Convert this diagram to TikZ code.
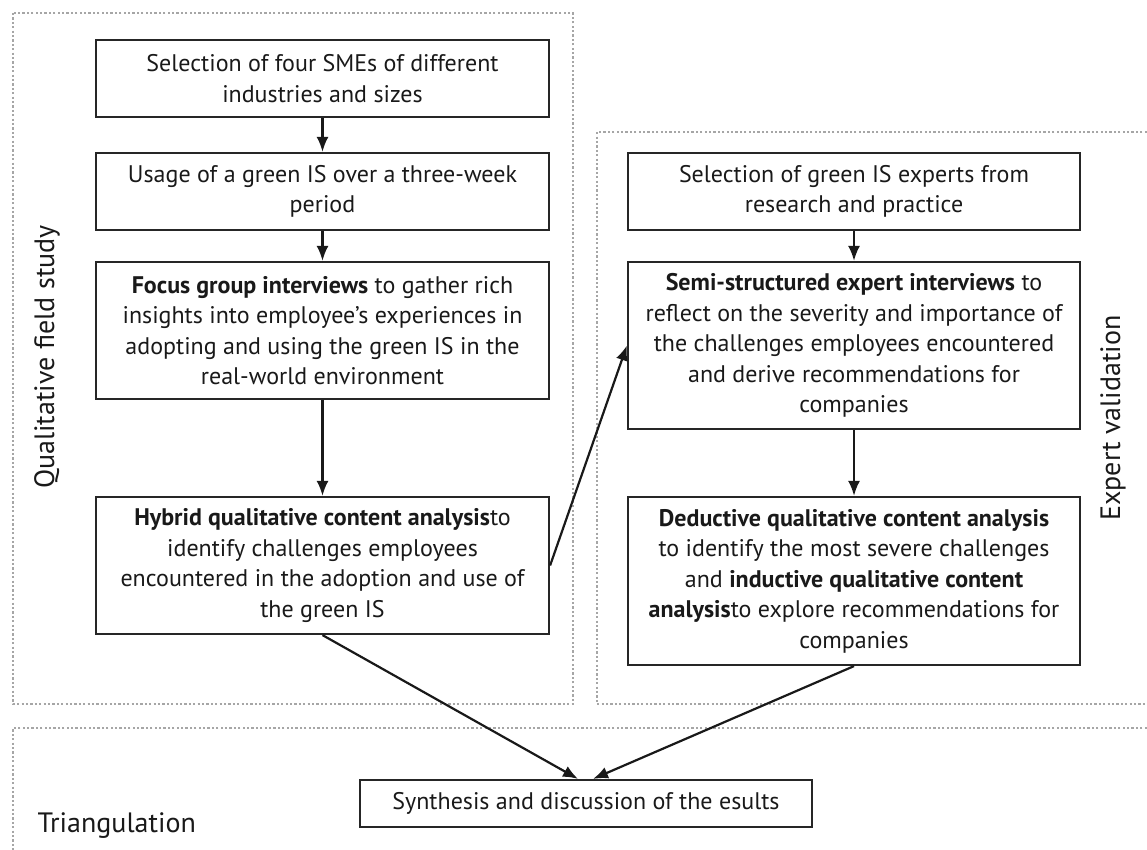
\documentclass[tikz,border=0pt]{standalone}
\usepackage{fontspec}
\setmainfont{PT Sans}
\usetikzlibrary{arrows.meta,calc}
\begin{document}
\begin{tikzpicture}[x=1pt,y=-1pt,
  stepbox/.style={draw=black!85,line width=2.2pt,align=center,inner sep=0pt,
    font=\fontsize{24}{30.5}\selectfont,text=black!90},
  conn/.style={line width=2.2pt,draw=black!90,-{Latex[length=15pt,width=12pt]}},
  frame/.style={draw=black!35,line width=2.6pt,dash pattern=on 2.2pt off 2.2pt},
  lbl/.style={font=\fontsize{28}{30}\selectfont,text=black!90}]
\useasboundingbox (0,0) rectangle (1147,850);
% dotted frames
\draw[frame] (13,13) rectangle (573,704);
\draw[frame] (1160,132) -- (597,132) -- (597,704) -- (1160,704);
\draw[frame] (1160,728) -- (13,728) -- (13,860);
% labels
\node[lbl,rotate=90] (lq) at (47,357) {Qualitative field study};
\node[lbl,rotate=90] (le) at (1113,418) {Expert validation};
\node[lbl,anchor=west] (lt) at (34,826) {Triangulation};
% left column
\node[stepbox,minimum width=453pt,minimum height=77pt] (b1) at (322.5,78.5)
  {Selection of four SMEs of different\\industries and sizes};
\node[stepbox,minimum width=453pt,minimum height=77pt] (b2) at (322.5,191.5)
  {Usage of a green IS over a three-week\\period};
\node[stepbox,minimum width=453pt,minimum height=137pt] (b3) at (322.5,330.5)
  {\textbf{Focus group interviews} to gather rich\\insights into employee’s experiences in\\adopting and using the green IS in the\\real-world environment};
\node[stepbox,minimum width=453pt,minimum height=137pt] (b4) at (322.5,565.5)
  {\textbf{Hybrid qualitative content analysis}to\\identify challenges employees\\encountered in the adoption and use of\\the green IS};
% right column
\node[stepbox,minimum width=452pt,minimum height=77pt] (r1) at (854,191.5)
  {Selection of green IS experts from\\research and practice};
\node[stepbox,minimum width=452pt,minimum height=167pt] (r2) at (854,345.5)
  {\textbf{Semi-structured expert interviews} to\\reflect on the severity and importance of\\the challenges employees encountered\\and derive recommendations for\\companies};
\node[stepbox,minimum width=452pt,minimum height=168pt] (r3) at (854,581)
  {\textbf{Deductive qualitative content analysis}\\to identify the most severe challenges\\and \textbf{inductive qualitative content}\\\textbf{analysis}to explore recommendations for\\companies};
% bottom
\node[stepbox,minimum width=452pt,minimum height=47pt] (s) at (586,803.5)
  {Synthesis and discussion of the esults};
% connectors
\draw[conn] (b1) -- (b2);
\draw[conn] (b2) -- (b3);
\draw[conn] (b3) -- (b4);
\draw[conn] (r1) -- (r2);
\draw[conn] (r2) -- (r3);
\draw[conn] (b4.east) -- (r2.west);
\draw[conn] (b4.south) -- ([xshift=-8pt]s.north);
\draw[conn] (r3.south) -- ([xshift=7pt]s.north);
\end{tikzpicture}
\end{document}
